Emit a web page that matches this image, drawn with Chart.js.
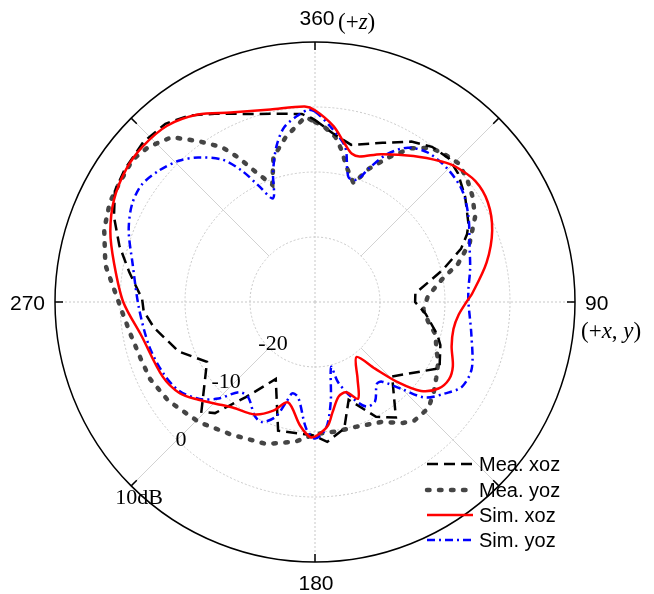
<!DOCTYPE html>
<html>
<head>
<meta charset="utf-8">
<script src="https://cdn.jsdelivr.net/npm/chart.js@4.4.1/dist/chart.umd.min.js"></script>
<style>
  body { margin: 0; background: #fff; }
  #wrap { width: 654px; height: 594px; position: relative; }
</style>
</head>
<body>
<div id="wrap"><canvas id="miCanvas" width="654" height="594"></canvas></div>
<script>
// angles in degrees (0 = +z, clockwise), gain in dB
const meaXozAng = [0, 6, 13, 23, 31, 37, 43, 48, 55, 63, 66, 70, 76, 85, 90, 96, 105, 109, 118, 134,
  145, 152, 161, 167, 175, 181, 196, 207, 216, 222, 226, 241, 250, 261, 267, 271, 279, 286, 293, 299,
  305, 313, 320, 326, 332, 341, 350, 356, 359];
const meaXozDb = [-2.0, -3.9, -5.2, -3.4, -1.2, -0.1, 0.2, -0.4, -1.8, -3.5, -4.4, -6.1, -9.8, -14.5, -14.6, -12.9, -10.5, -9.6, -8.3, -13.5,
  -8.3, -10.0, -14.1, -10.0, -8.4, -9.5, -9.4, -16.7, -11.9, -7.0, -5.7, -11.0, -7.7, -4.9, -3.6, -3.4, -1.1, 1.3, 3.6, 5.2,
  5.7, 6.1, 5.8, 4.6, 2.8, 0.6, -0.6, -1.0, -1.7];

const meaYozAng = [0, 3, 7, 10, 13, 18, 22, 27, 32, 37, 42, 46, 51, 56, 62, 69, 75, 80, 87, 94,
  100, 105, 111, 116, 122, 127, 133, 140, 144, 151, 162, 171, 180, 188, 199, 212, 224, 236, 245, 252,
  260, 267, 271, 280, 289, 296, 301, 308, 313, 319, 324, 329, 332, 336, 340, 344, 350, 357];
const meaYozDb = [-2.3, -3.0, -4.4, -6.3, -8.6, -10.8, -7.9, -5.0, -2.1, -0.3, 0.3, 0.7, 0.1, -0.8, -2.1, -4.5, -7.2, -10.2, -12.6, -13.3,
  -12.3, -10.8, -10.0, -8.9, -8.0, -7.1, -6.1, -6.2, -7.0, -8.9, -9.8, -9.8, -9.7, -8.3, -6.9, -5.9, -4.3, -2.8, -2.0, -1.8,
  -1.2, -0.3, 0.4, 2.75, 4.3, 5.1, 5.2, 5.6, 5.0, 3.6, 0.6, -2.2, -4.8, -8.4, -10.8, -6.8, -4.2, -1.5];

const simXozAng = [0, 6, 11, 14, 17, 24, 34, 42, 46, 53, 60, 68, 77, 87, 90, 95, 101, 108, 115, 120,
  125, 130, 134, 138, 143, 151, 156, 161, 166, 171, 174, 179, 182, 187, 195, 201, 208, 218, 224, 230,
  236, 244, 259, 270, 281, 289, 297, 305, 312, 320, 328, 336, 347, 357];
const simXozDb = [-0.5, -2.8, -5.4, -6.5, -6.6, -5.1, -2.9, -0.9, 0.0, 0.9, 0.7, -0.6, -2.9, -5.8, -6.7, -7.8, -8.3, -7.9, -6.6, -6.2,
  -6.8, -8.7, -12.2, -16.2, -19.4, -16.5, -13.7, -15.3, -15.0, -12.8, -10.9, -9.5, -9.2, -10.9, -14.0, -12.1, -10.4, -9.4, -8.2, -6.6,
  -4.9, -3.9, -2.8, -0.5, 1.5, 3.3, 4.7, 5.5, 5.7, 5.4, 4.0, 1.9, 0.4, 0.1];

const simYozAng = [0, 5, 11, 15, 19, 22, 26, 31, 37, 45, 53, 61, 70, 78, 85, 90, 102, 113, 120, 125,
  131, 135, 140, 143, 149, 154, 159, 164, 166, 171, 175, 180, 184, 190, 194, 196, 199, 204, 208, 215,
  220, 225, 230, 237, 245, 255, 268, 282, 291, 298, 304, 310, 316, 321, 327, 331, 334, 338, 342, 346,
  350, 355, 358];
const simYozDb = [-0.7, -2.9, -5.7, -10.1, -10.1, -7.8, -4.7, -2.3, -1.2, -1.1, -1.6, -3.0, -4.7, -5.6, -6.3, -6.4, -5.4, -3.8, -3.9, -5.5,
  -7.6, -11.0, -14.0, -14.2, -12.1, -12.1, -14.3, -17.2, -19.7, -14.5, -10.5, -9.0, -10.5, -15.1, -15.5, -14.0, -11.3, -9.8, -10.2, -12.1,
  -11.9, -9.0, -6.8, -5.0, -4.2, -3.6, -2.9, -1.3, 0.7, 1.9, 2.2, 1.4, 0.2, -1.4, -3.9, -7.0, -10.0, -12.8, -9.1, -5.4,
  -2.7, -1.1, -0.4];

const angleLabels = ['360', '90', '180', '270'];
const radialTicks = [-20, -10, 0, 10];
const seriesNames = ['Mea. xoz', 'Mea. yoz', 'Sim. xoz', 'Sim. yoz'];

// one label per degree, the radar scale places index i at i degrees
const degrees = [];
for (let i = 0; i < 360; i++) degrees.push(i);

const toFull = (ang, db) => {
  const arr = new Array(360).fill(null);
  ang.forEach((a, i) => { arr[Math.round(a) % 360] = db[i]; });
  return arr;
};

const styles = [
  { color: '#000000', width: 2.5, dash: [11, 6], cap: 'butt', tension: 0, order: 3 },
  { color: '#454545', width: 4.5, dash: [2.5, 9.5], cap: 'round', tension: 0, order: 4 },
  { color: '#ff0000', width: 2.5, dash: [], cap: 'butt', tension: 0.3, order: 1 },
  { color: '#0000ff', width: 2.5, dash: [8, 4, 2, 4], cap: 'butt', tension: 0.3, order: 2 }
];
const seriesData = [toFull(meaXozAng, meaXozDb), toFull(meaYozAng, meaYozDb),
  toFull(simXozAng, simXozDb), toFull(simYozAng, simYozDb)];

const sans = "'Liberation Sans', Arial, sans-serif";
const serif = "'Liberation Serif', 'Times New Roman', serif";

const drawParts = (ctx, parts, x, y) => {
  parts.forEach(([txt, italic]) => {
    ctx.font = (italic ? 'italic ' : '') + '23px ' + serif;
    ctx.fillText(txt, x, y);
    x += ctx.measureText(txt).width;
  });
};

const polarDecor = {
  id: 'polarDecor',
  beforeDatasetsDraw(chart) {
    const r = chart.scales.r;
    const ctx = chart.ctx;
    const outer = r.getDistanceFromCenterForValue(10);
    const inner = r.getDistanceFromCenterForValue(-20);
    ctx.save();
    ctx.strokeStyle = '#d2d2d2';
    ctx.lineWidth = 1;
    [45, 135, 225, 315].forEach(a => {
      const p1 = r.getPointPosition(a, inner);
      const p2 = r.getPointPosition(a, outer);
      ctx.beginPath(); ctx.moveTo(p1.x, p1.y); ctx.lineTo(p2.x, p2.y); ctx.stroke();
    });
    ctx.strokeStyle = '#000';
    ctx.lineWidth = 1.5;
    for (let a = 0; a < 360; a += 45) {
      const p1 = r.getPointPosition(a, outer);
      const p2 = r.getPointPosition(a, outer - 8);
      ctx.beginPath(); ctx.moveTo(p1.x, p1.y); ctx.lineTo(p2.x, p2.y); ctx.stroke();
    }
    ctx.restore();
  },
  afterDraw(chart) {
    const r = chart.scales.r;
    const ctx = chart.ctx;
    const cx = r.xCenter;
    ctx.save();
    ctx.fillStyle = '#000';
    // angle labels
    ctx.font = '21px ' + sans;
    ctx.textBaseline = 'alphabetic';
    ctx.textAlign = 'center';
    ctx.fillText(angleLabels[0], cx + 2, 25);
    ctx.fillText(angleLabels[2], cx + 1, 590);
    ctx.textAlign = 'right';
    ctx.fillText(angleLabels[3], 45, 310);
    ctx.textAlign = 'left';
    ctx.fillText(angleLabels[1], 585, 310);
    drawParts(ctx, [['(+', false], ['z', true], [')', false]], 338, 29);
    drawParts(ctx, [['(+', false], ['x', true], [', ', false], ['y', true], [')', false]], 581, 338);

    // radial tick labels along the lower-left diagonal
    const offs = [[4, -3.5], [3, -12], [4, 0], [8, 12]];
    ctx.font = '22px ' + serif;
    ctx.textAlign = 'center';
    ctx.textBaseline = 'middle';
    radialTicks.forEach((v, i) => {
      const p = r.getPointPosition(225, r.getDistanceFromCenterForValue(v));
      const txt = v === 10 ? v + 'dB' : String(v);
      ctx.fillText(txt, p.x + offs[i][0], p.y + offs[i][1]);
    });

    // legend
    const rows = [464, 490, 515, 540];
    seriesNames.forEach((name, i) => {
      const s = styles[i];
      ctx.save();
      ctx.strokeStyle = s.color;
      ctx.lineWidth = s.width;
      ctx.lineCap = s.cap;
      ctx.setLineDash(s.dash);
      ctx.beginPath();
      ctx.moveTo(427, rows[i]);
      ctx.lineTo(473, rows[i]);
      ctx.stroke();
      ctx.restore();
      ctx.font = '20px ' + sans;
      ctx.textAlign = 'left';
      ctx.textBaseline = 'middle';
      ctx.fillText(name, 479, rows[i] + 1);
    });
    ctx.restore();
  }
};

const ctx = document.getElementById('miCanvas').getContext('2d');
window.miChart = new Chart(ctx, {
  type: 'radar',
  data: {
    labels: degrees,
    datasets: seriesNames.map((name, i) => ({
      label: name,
      data: seriesData[i],
      borderColor: styles[i].color,
      borderWidth: styles[i].width,
      borderDash: styles[i].dash,
      borderCapStyle: styles[i].cap,
      tension: styles[i].tension,
      order: styles[i].order,
      spanGaps: true,
      fill: false,
      pointRadius: 0,
      pointHoverRadius: 0
    }))
  },
  options: {
    responsive: false,
    animation: false,
    layout: { padding: { left: 55, right: 79, top: 42, bottom: 32 } },
    plugins: { legend: { display: false }, tooltip: { enabled: false } },
    scales: {
      r: {
        min: -30,
        max: 10,
        ticks: { stepSize: 10, display: false },
        pointLabels: { display: false },
        grid: {
          circular: true,
          color: c => (c.tick && c.tick.value === 10 ? '#000' : '#c8c8c8'),
          lineWidth: c => (c.tick && c.tick.value === 10 ? 1.5 : 1)
        },
        border: { dash: c => (c.tick && c.tick.value === 10 ? [] : [2, 2]) },
        angleLines: {
          color: '#c8c8c8',
          lineWidth: c => (c.index % 90 === 0 ? 1 : 0),
          borderDash: [2, 2]
        }
      }
    }
  },
  plugins: [polarDecor]
});
</script>
</body>
</html>
